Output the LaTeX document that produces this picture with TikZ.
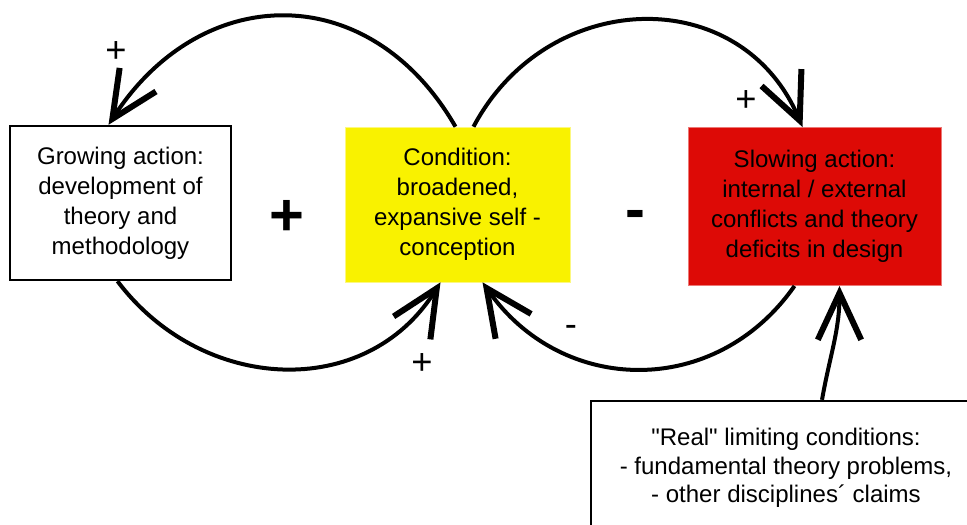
\documentclass[tikz,border=0pt]{standalone}
\usepackage{fontspec}
\setmainfont{Liberation Sans}
\usetikzlibrary{arrows.meta,calc}
\definecolor{condyellow}{RGB}{249,242,0}
\definecolor{slowred}{RGB}{221,10,6}

\begin{document}
\begin{tikzpicture}[
    x=0.03cm, y=0.03cm,
    box/.style={rectangle, draw, line width=0.07cm, align=center, inner sep=0pt, font=\fontsize{20.5}{25.6}\selectfont},
    feedback/.style={line width=0.12cm, -{Straight Barb[length=1.4cm, width=1.3cm, line width=0.18cm]}},
    sign/.style={inner sep=0pt, font=\fontsize{31}{36}\selectfont},
    bigsign/.style={inner sep=0pt, font=\fontsize{51}{60}\selectfont\bfseries}
]
  \useasboundingbox (0,0) rectangle (967,-525);
  \clip (0,0) rectangle (967,-525);
  % boxes
  \node[box, minimum width=6.63cm, minimum height=4.62cm] (grow) at (120.5,-203) {Growing action:\\development of\\theory and\\methodology};
  \node[box, fill=condyellow, draw=condyellow!50!white, line width=0.5pt, minimum width=6.75cm, minimum height=4.65cm] (cond) at (457.5,-204.5) {Condition:\\broadened,\\expansive self -\\conception};
  \node[box, fill=slowred, draw=slowred!55!white, line width=0.5pt, minimum width=7.6cm, minimum height=4.75cm] (slow) at (814.5,-206.5) {Slowing action:\\internal / external\\conflicts and theory\\deficits in design};
  \node[box, font=\fontsize{20.5}{24.3}\selectfont, minimum width=11.7cm, minimum height=4.02cm] (limit) at (786,-468) {\textquotedbl Real\textquotedbl{} limiting conditions:\\- fundamental theory problems,\\- other disciplines´ claims};
  % loops
  \draw[feedback] ($(cond.north)+(-2,0)$) to[out=120, in=57, looseness=1.26] ($(grow.north)+(-12,0)$);
  \draw[feedback] ($(grow.south)+(-3,0)$) to[out=-53, in=238, looseness=1.11] ($(cond.south)+(-17,0)$);
  \draw[feedback] ($(cond.north)+(16,0)$) to[out=62, in=113, looseness=1.23] ($(slow.north)+(-12,0)$);
  \draw[feedback] ($(slow.south)+(-20,0)$) to[out=235, in=-55, looseness=1.13] ($(cond.south)+(25,0)$);
  \draw[feedback] ($(limit.north)+(36,0)$) to[out=80, in=-90] ($(slow.south)+(25,0)$);
  % signs
  \node[sign] (plusgrow) at (116,-52) {+};
  \node[sign] (plusslow) at (746,-101) {+};
  \node[sign] (pluscond) at (422,-364) {+};
  \node[sign] (minuscond) at (571,-331) {-};
  \node[bigsign] (plusloop) at (287,-218) {+};
  \node[bigsign] (minusloop) at (635,-220) {-};
\end{tikzpicture}
\end{document}
